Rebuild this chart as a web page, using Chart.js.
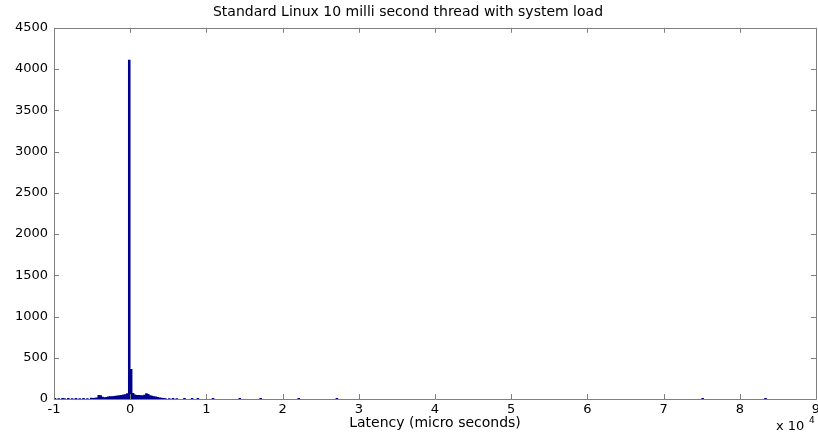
<!DOCTYPE html>
<html>
<head>
<meta charset="utf-8">
<script src="https://cdn.jsdelivr.net/npm/chart.js@4/dist/chart.umd.min.js"></script>
<style>
  html, body { margin: 0; padding: 0; background: #fff; }
  #wrap { width: 818px; height: 432px; }
</style>
</head>
<body>
<div id="wrap"><canvas id="HistChart" width="818" height="432"></canvas></div>
<script>
// histogram bins (micro seconds) and counts
const binCenters = [
  -9875, -9375, -8875, -8625, -8125, -7625, -7125, -6625, -6125, -5625, -5125, -4875, -4625,
  -4375, -4125, -3875, -3625, -3375, -3125, -2875, -2625, -2375, -2125, -1875, -1625,
  -1375, -1125, -875, -625, -375, -125, 125, 375, 625, 875, 1125, 1375, 1625, 1875,
  2125, 2375, 2625, 2875, 3125, 3375, 3625, 3875, 4125, 4375, 4625,
  5125, 5625, 6125, 7125, 8125, 8875, 10875, 14375, 17125, 22125, 27125, 75125, 83375
];
const counts = [
  8, 6, 8, 6, 8, 6, 8, 6, 8, 6, 10, 8, 10,
  15, 45, 40, 22, 18, 20, 25, 28, 30, 32, 35, 38,
  42, 45, 50, 55, 65, 4110, 360, 70, 50, 45, 45, 40, 42, 48,
  65, 58, 40, 35, 30, 25, 20, 15, 12, 8, 6,
  6, 8, 6, 8, 8, 8, 8, 8, 8, 8, 8, 8, 8
];
const xTickValues = [-10000, 0, 10000, 20000, 30000, 40000, 50000, 60000, 70000, 80000, 90000];
const yTickValues = [0, 500, 1000, 1500, 2000, 2500, 3000, 3500, 4000, 4500];

const FONT = 'DejaVu Sans';
const axisGray = '#7f7f7f';

// matlab style box with inward ticks, plus the "x 10^4" multiplier
const matlabAxes = {
  id: 'matlabAxes',
  afterDatasetsDraw(chart) {
    const ctx = chart.ctx;
    const a = chart.chartArea;
    const xs = chart.scales.x, ys = chart.scales.y;
    ctx.save();
    ctx.strokeStyle = axisGray;
    ctx.lineWidth = 1;
    ctx.beginPath();
    ctx.rect(Math.round(a.left) + 0.5, Math.round(a.top) + 0.5,
             Math.round(a.right - a.left), Math.round(a.bottom - a.top));
    xTickValues.forEach(v => {
      const px = Math.round(xs.getPixelForValue(v)) + 0.5;
      ctx.moveTo(px, a.bottom); ctx.lineTo(px, a.bottom - 5);
      ctx.moveTo(px, a.top); ctx.lineTo(px, a.top + 5);
    });
    yTickValues.forEach(v => {
      const py = Math.round(ys.getPixelForValue(v)) + 0.5;
      ctx.moveTo(a.left, py); ctx.lineTo(a.left + 5, py);
      ctx.moveTo(a.right, py); ctx.lineTo(a.right - 5, py);
    });
    ctx.stroke();
    // exponent label
    ctx.fillStyle = '#000';
    ctx.textBaseline = 'alphabetic';
    ctx.textAlign = 'left';
    ctx.font = '13px ' + FONT;
    ctx.fillText('x 10', 776, 430);
    ctx.font = '9px ' + FONT;
    ctx.fillText('4', 809, 423);
    ctx.restore();
  }
};

const histChart = new Chart(document.getElementById('HistChart').getContext('2d'), {
  type: 'bar',
  data: {
    datasets: [{
      label: 'Latency',
      data: binCenters.map((c, i) => ({ x: c, y: counts[i] })),
      backgroundColor: 'rgb(0,0,143)',
      borderWidth: 0,
      barPercentage: 1,
      categoryPercentage: 1
    }]
  },
  options: {
    responsive: false,
    animation: false,
    layout: { padding: { left: 0, right: 2, top: 0, bottom: 0 } },
    scales: {
      x: {
        type: 'linear',
        offset: false,
        min: -10000,
        max: 90000,
        afterFit: s => { s.height = 33; s.paddingLeft = 0; s.paddingRight = 0; },
        afterBuildTicks: s => { s.ticks = xTickValues.map(v => ({ value: v })); },
        grid: { display: false, drawTicks: false, offset: false },
        border: { display: false },
        ticks: {
          padding: 3,
          color: '#000',
          font: { family: FONT, size: 13 },
          maxRotation: 0,
          callback: v => String(v / 10000)
        },
        title: {
          display: true,
          text: 'Latency (micro seconds)',
          color: '#000',
          font: { family: FONT, size: 14 },
          padding: { top: -2, bottom: 0 }
        }
      },
      y: {
        min: 0,
        max: 4500,
        afterFit: s => { s.width = 54; s.paddingTop = 0; s.paddingBottom = 0; },
        afterBuildTicks: s => { s.ticks = yTickValues.map(v => ({ value: v })); },
        grid: { display: false, drawTicks: false },
        border: { display: false },
        ticks: {
          padding: 6,
          color: '#000',
          font: { family: FONT, size: 13 },
          callback: v => String(v)
        }
      }
    },
    plugins: {
      legend: { display: false },
      tooltip: { enabled: false },
      title: {
        display: true,
        text: 'Standard Linux 10 milli second thread with system load',
        color: '#000',
        font: { family: FONT, size: 14, weight: 'normal' },
        padding: { top: 4, bottom: 7 }
      }
    }
  },
  plugins: [matlabAxes]
});
</script>
</body>
</html>
